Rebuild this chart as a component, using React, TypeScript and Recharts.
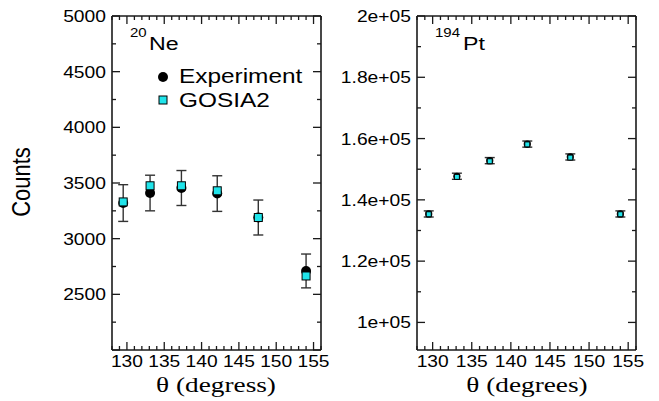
import React from 'react';
import { ScatterChart, Scatter, XAxis, YAxis, ErrorBar } from 'recharts';

// scattering angles (deg)
const angles = [129.5, 133.1, 137.3, 142.1, 147.6, 154.0];

// 20Ne panel
const neExperiment = [3320, 3410, 3455, 3405, 3190, 2710];
const neError = [165, 160, 157, 160, 157, 152];
const neGosia = [3330, 3475, 3475, 3430, 3190, 2665];

// 194Pt panel
const ptExperiment = [135400, 147700, 152800, 158200, 154000, 135400];
const ptError = [1000, 1000, 1000, 1000, 1000, 1000];
const ptGosia = [135300, 147500, 152600, 158100, 153800, 135300];

// ticks
const xMajor = [130, 135, 140, 145, 150, 155];
const xMinor = [128, 129, 131, 132, 133, 134, 136, 137, 138, 139, 141, 142, 143, 144, 146, 147, 148, 149, 151, 152, 153, 154, 156];
const neMajor = [2000, 2500, 3000, 3500, 4000, 4500, 5000];
const neMinor = [2250, 2750, 3250, 3750, 4250, 4750];
const ptMajor = [100000, 120000, 140000, 160000, 180000, 200000];
const ptLabels = ['1e+05', '1.2e+05', '1.4e+05', '1.6e+05', '1.8e+05', '2e+05'];
const ptMinor = [110000, 130000, 150000, 170000, 190000];

const neExpData = angles.map((x, i) => ({ x, y: neExperiment[i], err: neError[i] }));
const neGosiaData = angles.map((x, i) => ({ x, y: neGosia[i] }));
const ptExpData = angles.map((x, i) => ({ x, y: ptExperiment[i], err: ptError[i] }));
const ptGosiaData = angles.map((x, i) => ({ x, y: ptGosia[i] }));

const INK = '#1a1a1a';
const CYAN = '#20e4ea';
const SANS = '"Liberation Sans", Arial, sans-serif';
const SERIF = '"Liberation Serif", "Times New Roman", serif';

type Side = 'bottom' | 'top' | 'left' | 'right';

const allTicks = (major: number[], minor: number[]) => [...major, ...minor].sort((a, b) => a - b);

const makeTick = (side: Side, major: number[], label?: (v: number) => string) => (props: any) => {
  const { x, y, payload } = props;
  const isMajor = major.includes(payload.value);
  const len = isMajor ? 8 : 4;
  let x2 = x;
  let y2 = y;
  if (side === 'bottom') y2 = y - len;
  if (side === 'top') y2 = y + len;
  if (side === 'left') x2 = x + len;
  if (side === 'right') x2 = x - len;
  const text = label && isMajor ? label(payload.value) : null;
  return (
    <g>
      <line x1={x} y1={y} x2={x2} y2={y2} stroke={INK} strokeWidth={1.3} />
      {text && side === 'bottom' && (
        <g transform={`translate(${x},${y + 17}) scale(1.2,1)`}>
          <text x={0} y={0} textAnchor="middle" fontFamily={SANS} fontSize={16} fill="#000">{text}</text>
        </g>
      )}
      {text && side === 'left' && (
        <g transform={`translate(${x - 6},${y + 6}) scale(1.22,1)`}>
          <text x={0} y={0} textAnchor="end" fontFamily={SANS} fontSize={15.8} fill="#000">{text}</text>
        </g>
      )}
    </g>
  );
};

const neLabel = (v: number) => (v === 2000 ? '' : String(v));
const ptLabel = (v: number) => ptLabels[ptMajor.indexOf(v)];
const xLabel = (v: number) => String(v);

const circleShape = (r: number) => (props: any) => (
  <circle cx={props.cx} cy={props.cy} r={r} fill="#000" />
);
const squareShape = (s: number) => (props: any) => (
  <rect x={props.cx - s / 2} y={props.cy - s / 2} width={s} height={s} fill={CYAN} stroke="#000" strokeWidth={1} />
);

const axisLine = { stroke: INK, strokeWidth: 1.6 };

const Frame = (yDomain: number[], yMajor: number[], yMinor: number[], yLabel: (v: number) => string) => {
  const xt = allTicks(xMajor, xMinor);
  const yt = allTicks(yMajor, yMinor);
  return [
    <XAxis key="xb" xAxisId={0} type="number" dataKey="x" domain={[128, 156]} ticks={xt} interval={0} height={1}
      tickSize={0} tickMargin={0} tickLine={false} axisLine={axisLine} tick={makeTick('bottom', xMajor, xLabel)} allowDataOverflow />,
    <XAxis key="xt" xAxisId="t" orientation="top" type="number" dataKey="x" domain={[128, 156]} ticks={xt} interval={0} height={1}
      tickSize={0} tickMargin={0} tickLine={false} axisLine={axisLine} tick={makeTick('top', xMajor)} allowDataOverflow />,
    <YAxis key="yl" yAxisId={0} type="number" dataKey="y" domain={yDomain} ticks={yt} interval={0} width={1}
      tickSize={0} tickMargin={0} tickLine={false} axisLine={axisLine} tick={makeTick('left', yMajor, yLabel)} allowDataOverflow />,
    <YAxis key="yr" yAxisId="r" orientation="right" type="number" dataKey="y" domain={yDomain} ticks={yt} interval={0} width={1}
      tickSize={0} tickMargin={0} tickLine={false} axisLine={axisLine} tick={makeTick('right', yMajor)} allowDataOverflow />,
  ];
};

const Stretched = ({ x, y, sx = 1.2, children, ...rest }: any) => (
  <g transform={`translate(${x},${y}) scale(${sx},1)`}>
    <text x={0} y={0} {...rest}>{children}</text>
  </g>
);

const App = () => {
  return (
    <div style={{ position: 'absolute', left: 0, top: 0, width: 659, height: 401, background: '#fff' }}>
      <div style={{ position: 'absolute', left: 0, top: 0 }}>
        <ScatterChart width={330} height={401} margin={{ top: 15, right: 8, bottom: 50, left: 111 }}>
          {Frame([2000, 5000], neMajor, neMinor, neLabel)}
          <Scatter name="Experiment" data={neExpData} isAnimationActive={false} shape={circleShape(5)}>
            <ErrorBar dataKey="err" direction="y" width={5} stroke="#333" strokeWidth={1.4} />
          </Scatter>
          <Scatter name="GOSIA2" data={neGosiaData} isAnimationActive={false} shape={squareShape(8)} />
        </ScatterChart>
      </div>
      <div style={{ position: 'absolute', left: 330, top: 0 }}>
        <ScatterChart width={329} height={401} margin={{ top: 15, right: 22, bottom: 50, left: 86 }}>
          {Frame([91000, 200000], ptMajor, ptMinor, ptLabel)}
          <Scatter name="Experiment" data={ptExpData} isAnimationActive={false} shape={circleShape(3.6)}>
            <ErrorBar dataKey="err" direction="y" width={5} stroke="#333" strokeWidth={1.4} />
          </Scatter>
          <Scatter name="GOSIA2" data={ptGosiaData} isAnimationActive={false} shape={squareShape(5)} />
        </ScatterChart>
      </div>
      <svg width={659} height={401} style={{ position: 'absolute', left: 0, top: 0, pointerEvents: 'none' }}>
        <g transform="translate(30,182) scale(1.2,1) rotate(-90)">
          <text x={0} y={0} textAnchor="middle" fontFamily={SANS} fontSize={22} fill="#000">Counts</text>
        </g>
        <Stretched x={216} y={392} sx={1.3} textAnchor="middle" fontFamily={SERIF} fontSize={21} fill="#000">θ (degress)</Stretched>
        <Stretched x={527} y={392} sx={1.3} textAnchor="middle" fontFamily={SERIF} fontSize={21} fill="#000">θ (degrees)</Stretched>
        <Stretched x={130} y={37} sx={1.2} fontFamily={SANS} fontSize={12.5} fill="#000">20</Stretched>
        <Stretched x={149} y={50} sx={1.22} fontFamily={SANS} fontSize={19} fill="#000">Ne</Stretched>
        <Stretched x={435} y={37} sx={1.2} fontFamily={SANS} fontSize={12.5} fill="#000">194</Stretched>
        <Stretched x={463} y={50} sx={1.22} fontFamily={SANS} fontSize={19} fill="#000">Pt</Stretched>
        <circle cx={163} cy={77} r={5} fill="#000" />
        <Stretched x={179} y={83} sx={1.22} fontFamily={SANS} fontSize={20} fill="#000">Experiment</Stretched>
        <rect x={159} y={96} width={8} height={8} fill={CYAN} stroke="#000" strokeWidth={1} />
        <Stretched x={179} y={107} sx={1.22} fontFamily={SANS} fontSize={20} fill="#000">GOSIA2</Stretched>
      </svg>
    </div>
  );
};

export default App;
